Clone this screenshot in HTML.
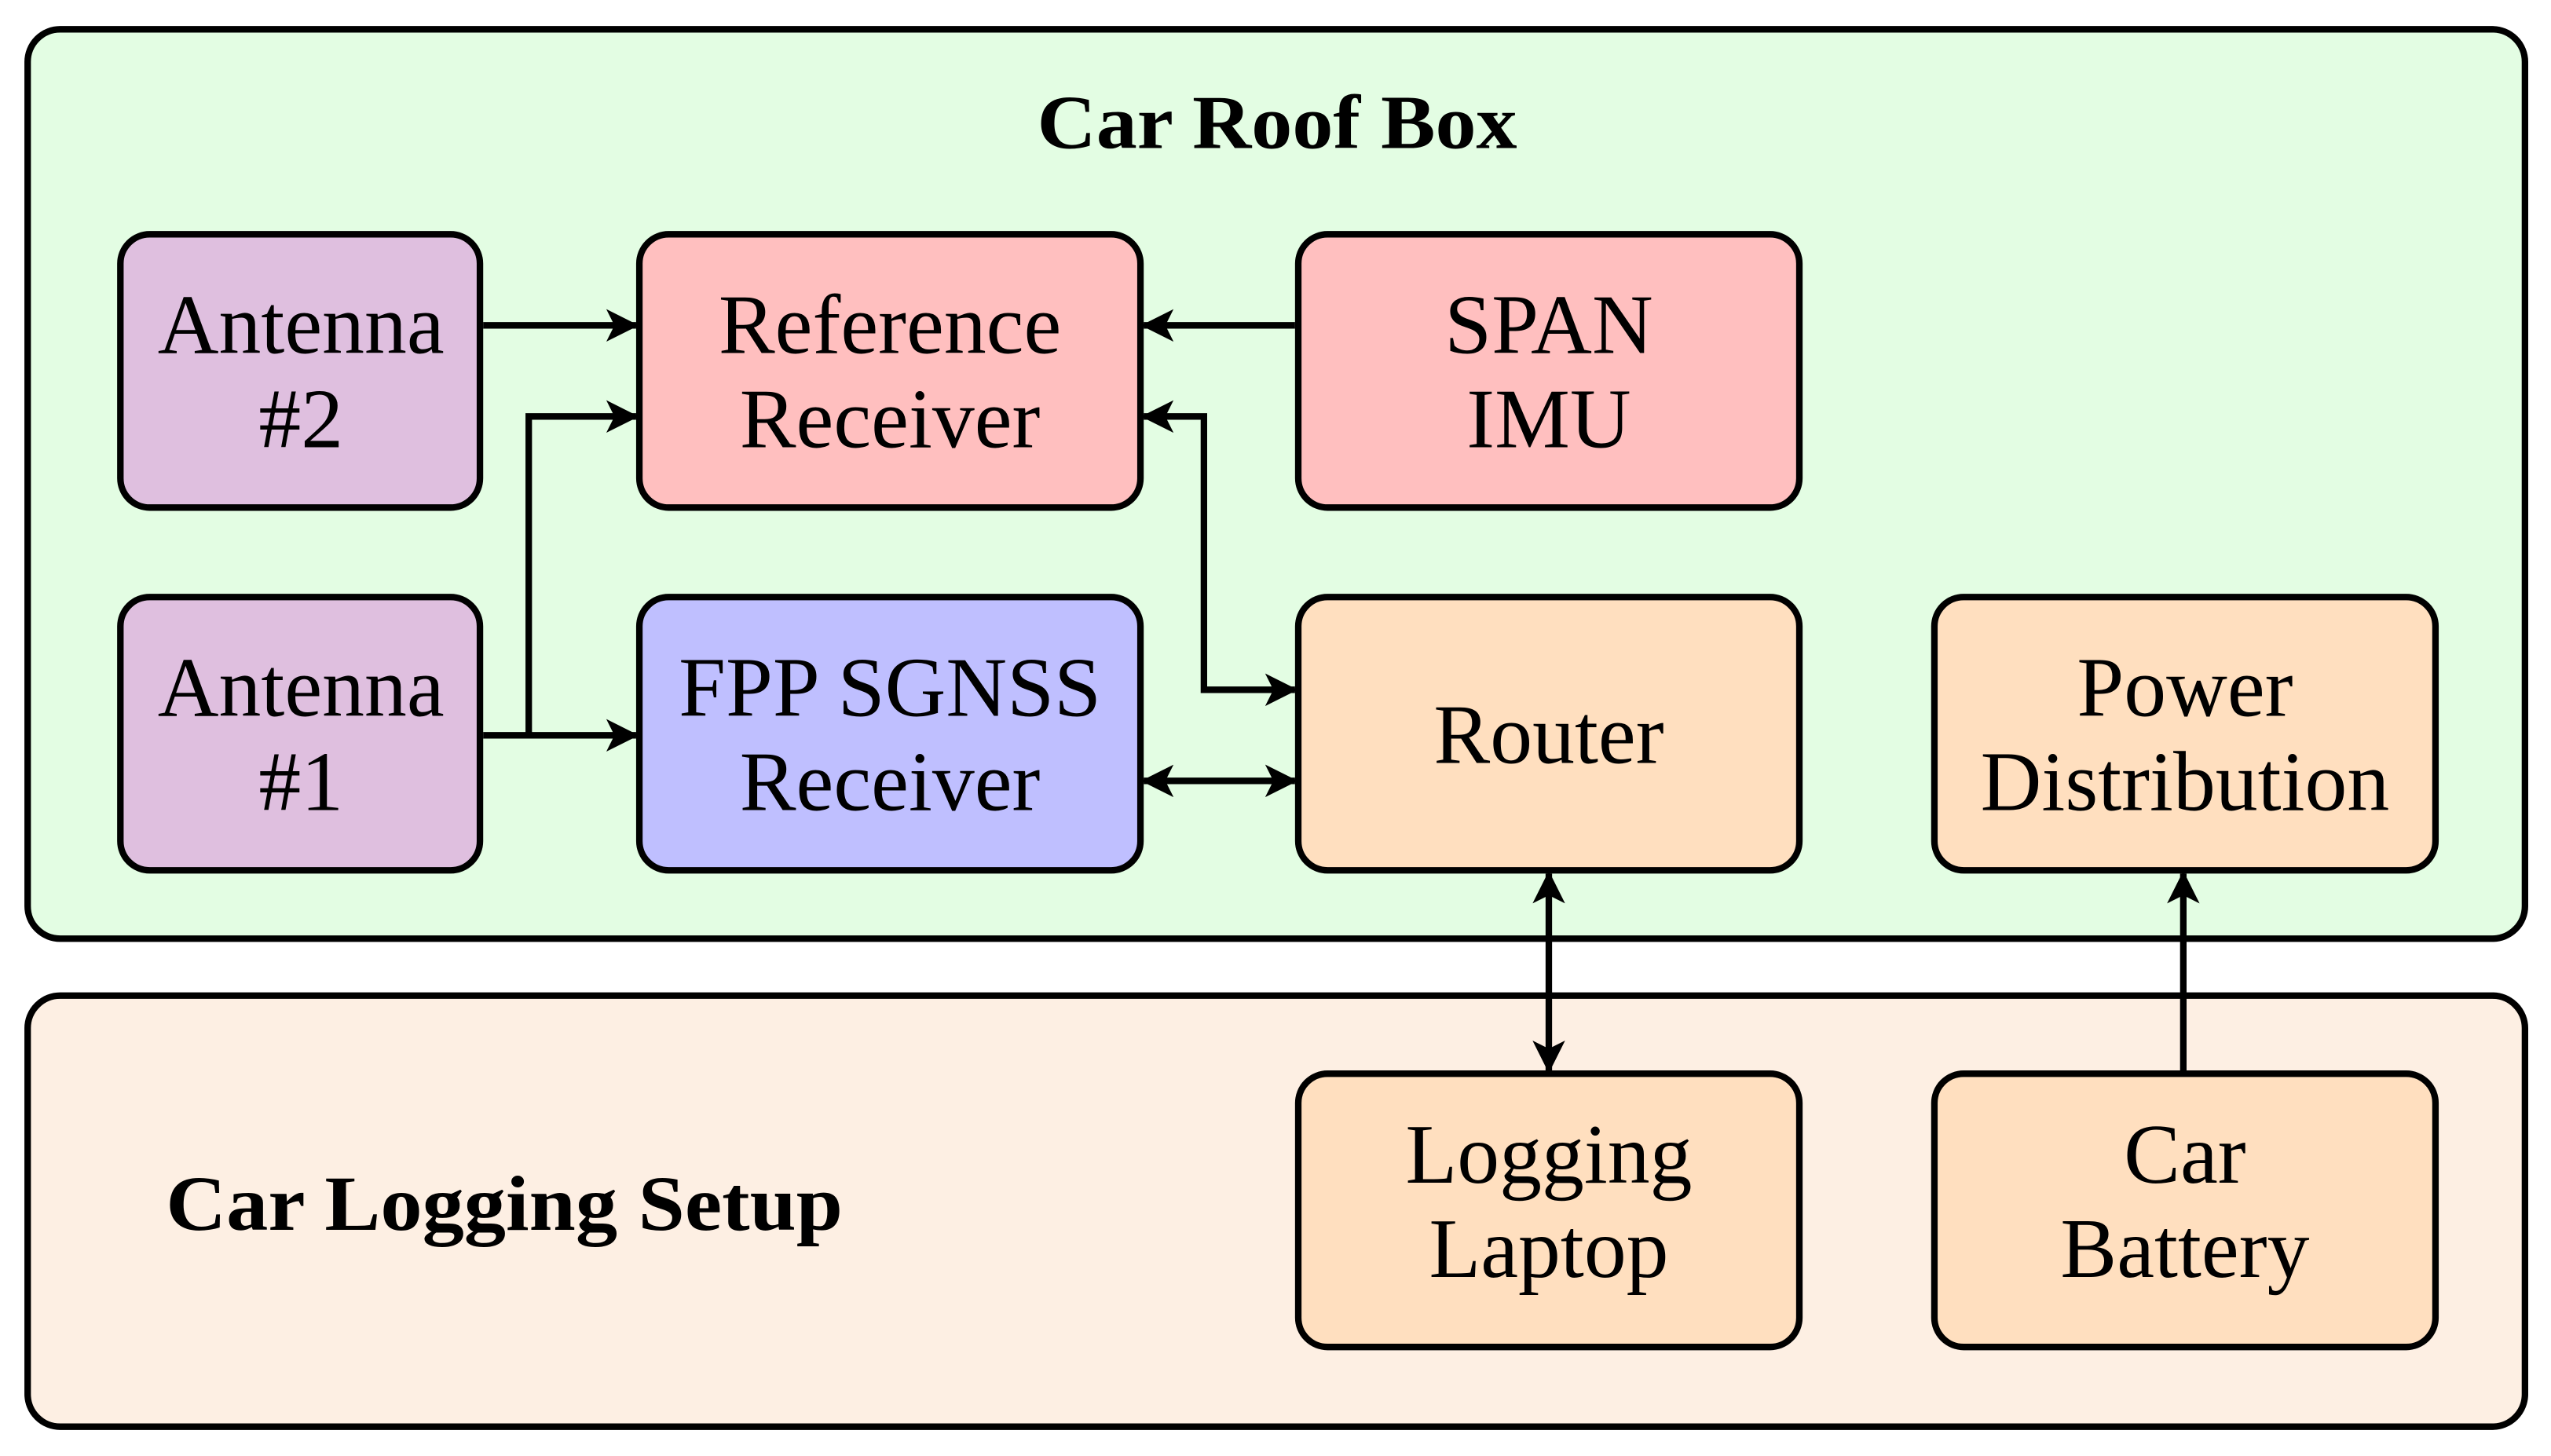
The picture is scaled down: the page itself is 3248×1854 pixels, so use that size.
<!DOCTYPE html>
<html><head><style>html,body{margin:0;padding:0;background:#fff}svg{display:block}</style></head>
<body>
<svg width="3248" height="1854" viewBox="0 0 1568 895" xmlns="http://www.w3.org/2000/svg">
<defs>
<marker id="h" viewBox="0 0 12 12" refX="11" refY="6" markerWidth="20" markerHeight="20" orient="auto-start-reverse" markerUnits="userSpaceOnUse">
<path d="M0,0 L12,6 L0,12 L3,6 Z" fill="#000"/>
</marker>
</defs>
<g stroke="#000" stroke-width="4">
<rect x="17" y="18" width="1535" height="559" rx="20" fill="#e3fde3"/>
<rect x="17" y="612" width="1535" height="265" rx="20" fill="#fdefe3"/>
<rect x="74" y="144" width="221" height="168" rx="18" fill="#dfbfdf"/>
<rect x="393" y="144" width="308" height="168" rx="18" fill="#ffbfbf"/>
<rect x="798" y="144" width="308" height="168" rx="18" fill="#ffbfbf"/>
<rect x="74" y="367" width="221" height="168" rx="18" fill="#dfbfdf"/>
<rect x="393" y="367" width="308" height="168" rx="18" fill="#bfbfff"/>
<rect x="798" y="367" width="308" height="168" rx="18" fill="#ffdfbf"/>
<rect x="1189" y="367" width="308" height="168" rx="18" fill="#ffdfbf"/>
<rect x="798" y="660" width="308" height="168" rx="18" fill="#ffdfbf"/>
<rect x="1189" y="660" width="308" height="168" rx="18" fill="#ffdfbf"/>
</g>
<g stroke="#000" stroke-width="4" fill="none">
<path d="M297,200 H391" marker-end="url(#h)"/>
<path d="M297,452 H391" marker-end="url(#h)"/>
<path d="M325,452 V256 H391" marker-end="url(#h)"/>
<path d="M796,200 H703" marker-end="url(#h)"/>
<path d="M703,256 H740 V424 H796" marker-start="url(#h)" marker-end="url(#h)"/>
<path d="M703,480 H796" marker-start="url(#h)" marker-end="url(#h)"/>
<path d="M952,537 V658" marker-start="url(#h)" marker-end="url(#h)"/>
<path d="M1342,660 V537" marker-end="url(#h)"/>
</g>
<g font-family="Liberation Serif, serif" font-size="52" text-anchor="middle" fill="#000">
<text x="785" y="91" font-weight="bold" font-size="47" textLength="295" lengthAdjust="spacingAndGlyphs">Car Roof Box</text>
<text x="102" y="756" font-weight="bold" font-size="48" text-anchor="start" textLength="416" lengthAdjust="spacingAndGlyphs">Car Logging Setup</text>
<text x="185" y="217">Antenna</text><text x="185" y="275">#2</text>
<text x="547" y="217">Reference</text><text x="547" y="275">Receiver</text>
<text x="952" y="217">SPAN</text><text x="952" y="275">IMU</text>
<text x="185" y="440">Antenna</text><text x="185" y="498">#1</text>
<text x="547" y="440">FPP SGNSS</text><text x="547" y="498">Receiver</text>
<text x="952" y="469">Router</text>
<text x="1343" y="440">Power</text><text x="1343" y="498">Distribution</text>
<text x="952" y="727">Logging</text><text x="952" y="785">Laptop</text>
<text x="1343" y="727">Car</text><text x="1343" y="785">Battery</text>
</g>
</svg>
</body></html>
